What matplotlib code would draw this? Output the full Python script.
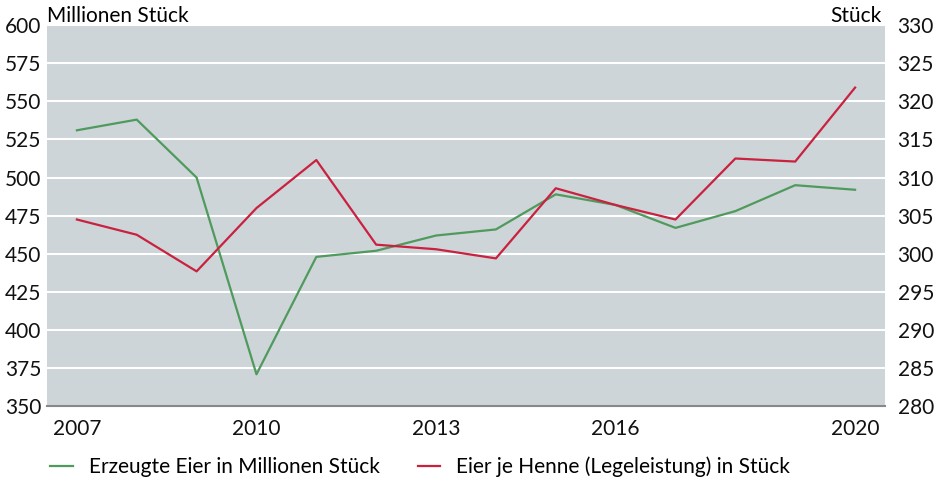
import numpy as np
import matplotlib.pyplot as plt
from matplotlib.lines import Line2D

years = [2007, 2008, 2009, 2010, 2011, 2012, 2013, 2014, 2015, 2016, 2017, 2018, 2019, 2020]
eggs_million = [531, 538, 500, 371, 448, 452, 462, 466, 489, 482, 467, 478, 495, 492]
eggs_per_hen = [304.5, 302.5, 297.7, 306.0, 312.3, 301.2, 300.6, 299.4, 308.6, 306.4, 304.5, 312.5, 312.1, 321.8]
xtick_years = [2007, 2010, 2013, 2016, 2020]
label_green = 'Erzeugte Eier in Millionen Stück'
label_red = 'Eier je Henne (Legeleistung) in Stück'

green = '#4f9a5c'
red = '#c9213f'
bg = '#cdd5d8'

plt.rcParams['font.family'] = ['Lato', 'DejaVu Sans']
plt.rcParams['font.size'] = 15

fig = plt.figure(figsize=(9.39, 4.82), dpi=100)
ax = fig.add_axes([0.050, 0.157, 0.8925, 0.791])
ax.set_facecolor(bg)
ax2 = ax.twinx()

ax.plot(years, eggs_million, color=green, lw=1.6)
ax2.plot(years, eggs_per_hen, color=red, lw=1.6)

ax.set_xlim(2006.5, 2020.5)
ax.set_ylim(350, 600)
ax2.set_ylim(280, 330)
ax.set_yticks(np.arange(350, 601, 25))
ax2.set_yticks(np.arange(280, 331, 5))
ax.set_xticks(xtick_years)

ax.grid(axis='y', color='white', lw=1.5)
ax.set_axisbelow(True)
for a in (ax, ax2):
    for s in a.spines.values():
        s.set_visible(False)
ax.spines['bottom'].set_visible(True)
ax.spines['bottom'].set_color('#888888')
ax.spines['bottom'].set_linewidth(1.5)
ax.tick_params(axis='both', length=0, labelcolor='#111111')
ax.tick_params(axis='y', pad=4)
ax.tick_params(axis='x', pad=9)
ax2.tick_params(axis='y', length=0, pad=9, labelcolor='#111111')

fig.text(47 / 939, 1 - 22 / 482, 'Millionen Stück', ha='left', va='baseline')
fig.text(882 / 939, 1 - 22 / 482, 'Stück', ha='right', va='baseline')

handles = [Line2D([], [], color=green, lw=1.6), Line2D([], [], color=red, lw=1.6)]
fig.legend(handles, [label_green, label_red], loc='center left',
           bbox_to_anchor=(40 / 939, 1 - 467 / 482), ncol=2, frameon=False,
           handlelength=1.06, handletextpad=0.77, columnspacing=1.85, borderaxespad=0,
           borderpad=0.5)

fig.savefig('out.png', dpi=100)
